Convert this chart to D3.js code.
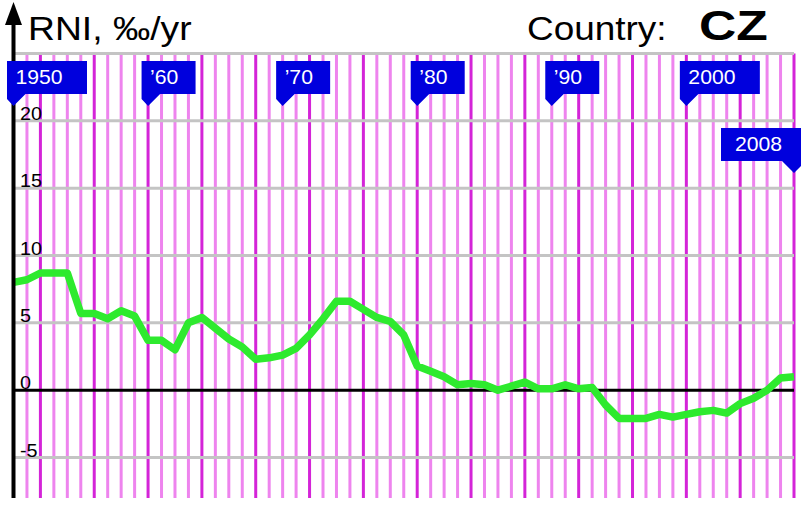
<!DOCTYPE html>
<html><head><meta charset="utf-8">
<script src="https://cdnjs.cloudflare.com/ajax/libs/d3/7.8.5/d3.min.js"></script>
<style>body{margin:0;background:#fff}svg{display:block}text{font-family:"Liberation Sans",Arial,sans-serif}</style>
</head><body>
<svg id="c" width="808" height="512"></svg>
<script>
const years = d3.range(1950, 2009);
const rni = [8.0,8.2,8.7,8.7,8.7,5.7,5.7,5.3,5.9,5.5,
  3.7,3.7,3.0,5.0,5.4,4.6,3.8,3.2,2.3,2.4,
  2.6,3.1,4.1,5.3,6.6,6.6,6.0,5.4,5.1,4.1,
  1.8,1.4,1.0,0.4,0.5,0.4,0.0,0.3,0.6,0.1,
  0.1,0.4,0.1,0.2,-1.1,-2.1,-2.1,-2.1,-1.8,-2.0,
  -1.8,-1.6,-1.5,-1.7,-1.0,-0.6,0.0,0.9,1.0];
const yTicks = [-5, 0, 5, 10, 15, 20, 25];
const yTickLabels = ["-5", "0", "5", "10", "15", "20", ""];
const flagYears = [1950, 1960, 1970, 1980, 1990, 2000, 2008];
const flagLabels = ["1950", "\u201960", "\u201970", "\u201980", "\u201990", "2000", "2008"];
const titleText = "RNI, \u2030/yr";
const countryLabel = "Country:";
const countryCode = "CZ";

const svg = d3.select("#c");
const x = d3.scaleLinear().domain([1950, 2008]).range([13.5, 794]);
const y = d3.scaleLinear().domain([-5, 25]).range([457.5, 53.5]);
const yBottom = 498;

function stretched(g, tx, ty, sx, size) {
  return g.append("text").attr("transform", `translate(${tx},${ty}) scale(${sx},1)`)
    .attr("font-size", size);
}

// vertical year lines
svg.append("g").selectAll("line").data(years.slice(1)).join("line")
  .attr("x1", d => x(d)).attr("x2", d => x(d))
  .attr("y1", y(25)).attr("y2", yBottom)
  .attr("stroke", d => d % 4 === 0 ? "#d424d8" : "#ee84ee")
  .attr("stroke-width", 3);

// horizontal gridlines
svg.append("g").selectAll("line").data(yTicks.filter(d => d !== 0)).join("line")
  .attr("x1", x(1950)).attr("x2", x(2008))
  .attr("y1", d => y(d)).attr("y2", d => y(d))
  .attr("stroke", "#c4c4c4").attr("stroke-width", 3);

// zero line
svg.append("line").attr("x1", x(1950)).attr("x2", x(2008))
  .attr("y1", y(0)).attr("y2", y(0)).attr("stroke", "#000").attr("stroke-width", 3);

// tick labels
const tg = svg.append("g");
yTicks.forEach((d, i) => {
  stretched(tg, 20, y(d) - 1, 1.1, 18).attr("fill", "#000").text(yTickLabels[i]);
});

// data line
const line = d3.line().x((d, i) => x(years[i])).y(d => y(d));
svg.append("path").datum(rni).attr("d", line)
  .attr("fill", "none").attr("stroke", "#2eea2e").attr("stroke-width", 7.5)
  .attr("stroke-linejoin", "round");

// y axis with arrow
svg.append("line").attr("x1", 13.5).attr("x2", 13.5).attr("y1", yBottom).attr("y2", 20)
  .attr("stroke", "#000").attr("stroke-width", 4);
svg.append("path").attr("d", "M13.5,2 L22,25 L5,25 Z").attr("fill", "#000");

// title
stretched(svg, 28, 40, 1.13, 33).text(titleText);
stretched(svg, 527, 40, 1.12, 33).text(countryLabel);
stretched(svg, 699, 40, 1.2, 43).attr("font-weight", "bold").text(countryCode);

// flags
const fg = svg.append("g");
flagYears.forEach((yr, i) => {
  const lab = flagLabels[i];
  const px = x(yr);
  const w = lab.length === 4 ? 80 : 54;
  if (i < flagYears.length - 1) {
    const l = px - 6.5, t = 61, b = 94;
    fg.append("path").attr("d",
      `M${l},${t} L${l + w},${t} L${l + w},${b} L${px + 12},${b} L${px},${b + 12} L${l},${b + 5} Z`)
      .attr("fill", "#0000dd");
    stretched(fg, l + 8.5, 84, 1.06, 20).attr("fill", "#fff").text(lab);
  } else {
    const r = px + 7, t = 128, b = 161;
    fg.append("path").attr("d",
      `M${r},${t} L${r - w},${t} L${r - w},${b} L${px - 12},${b} L${px},${b + 12} L${r},${b + 5} Z`)
      .attr("fill", "#0000dd");
    stretched(fg, r - w + 14, 151, 1.06, 20).attr("fill", "#fff").text(lab);
  }
});
</script>
</body></html>
